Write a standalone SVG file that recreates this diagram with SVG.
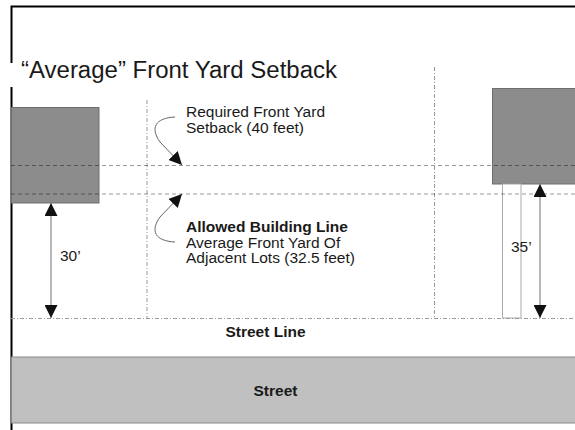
<svg xmlns="http://www.w3.org/2000/svg" width="575" height="430" viewBox="0 0 575 430">
  <style>
    text { font-family: "Liberation Sans", Arial, sans-serif; fill: #1a1a1a; }
    .lbl { font-size: 15.5px; }
    .b { font-weight: bold; }
    .bldg { fill: #8c8c8c; stroke: #6e6e6e; stroke-width: 1; }
    .dash { stroke: #000; stroke-opacity: 0.4; stroke-width: 1; stroke-dasharray: 4 3; fill: none; }
    .dd { stroke: #9a9a9a; stroke-width: 1; stroke-dasharray: 4 2 1 2; fill: none; }
    .dim { stroke: #a0a0a0; stroke-width: 1.5; fill: none; }
    .curve { stroke: #666; stroke-width: 1; fill: none; }
  </style>
  <defs>
    <marker id="ah" markerUnits="userSpaceOnUse" markerWidth="13" markerHeight="13" viewBox="0 0 13 13" refX="13" refY="6.5" orient="auto-start-reverse">
      <path d="M0,0 L13,6.5 L0,13 z" fill="#111"/>
    </marker>
  </defs>

  <rect x="0" y="0" width="575" height="430" fill="#fff"/>

  <g id="frame">
    <path d="M11.5,430 V6.5 H575" stroke="#000" stroke-width="2" fill="none"/>
  </g>

  <g id="title">
    <rect x="9" y="63" width="336" height="24" fill="#fff"/>
    <text x="21" y="78" font-size="23" textLength="316" lengthAdjust="spacingAndGlyphs">“Average” Front Yard Setback</text>
  </g>

  <g id="street">
    <rect x="11.5" y="357" width="570" height="66" fill="#c0c0c0" stroke="#888" stroke-width="1"/>
    <text class="lbl b" x="275.5" y="396" text-anchor="middle">Street</text>
  </g>

  <g id="left-building">
    <rect class="bldg" x="11.5" y="107.5" width="87.5" height="95.5"/>
  </g>

  <g id="right-building">
    <rect class="bldg" x="492.5" y="88.5" width="90" height="95.5"/>
    <rect x="502.5" y="184" width="18.5" height="134" fill="#fff" stroke="#aaa" stroke-width="1"/>
  </g>

  <g id="connectors">
    <line class="dd" x1="147" y1="100" x2="147" y2="318"/>
    <line class="dd" x1="434.5" y1="67" x2="434.5" y2="318"/>
    <line class="dd" x1="11" y1="318.5" x2="575" y2="318.5"/>
    <line class="dash" x1="11" y1="165.5" x2="575" y2="165.5"/>
    <line class="dash" x1="11" y1="194" x2="575" y2="194"/>
    <line class="dim" x1="51" y1="203" x2="51" y2="318" marker-start="url(#ah)" marker-end="url(#ah)"/>
    <line class="dim" x1="540" y1="184" x2="540" y2="318" marker-start="url(#ah)" marker-end="url(#ah)"/>
    <path class="curve" d="M175,117 C155,118 150,128 160,142 L182,165" marker-end="url(#ah)"/>
    <path class="curve" d="M175,242 C155,241 150,231 160,217 L182,194" marker-end="url(#ah)"/>
  </g>

  <g id="label-required">
    <text class="lbl" x="186" y="117">Required Front Yard</text>
    <text class="lbl" x="186" y="133">Setback (40 feet)</text>
  </g>

  <g id="label-allowed">
    <text class="lbl b" x="186" y="232">Allowed Building Line</text>
    <text class="lbl" x="186" y="247.5">Average Front Yard Of</text>
    <text class="lbl" x="186" y="263">Adjacent Lots (32.5 feet)</text>
  </g>

  <g id="label-30">
    <text class="lbl" x="60" y="261">30’</text>
  </g>
  <g id="label-35">
    <text class="lbl" x="511" y="252">35’</text>
  </g>

  <g id="label-street-line">
    <text class="lbl b" x="265.5" y="337" text-anchor="middle">Street Line</text>
  </g>
</svg>
